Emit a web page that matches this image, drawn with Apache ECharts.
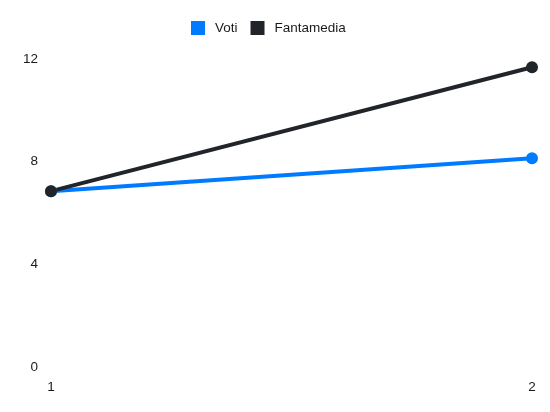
<!DOCTYPE html>
<html>
<head>
<meta charset="utf-8">
<script src="https://cdn.jsdelivr.net/npm/echarts@6/dist/echarts.min.js"></script>
<style>
html,body{margin:0;padding:0;background:#fff;}
#c{width:550px;height:412px;}
</style>
</head>
<body>
<div id="c"></div>
<script>
const categories = ['1', '2'];
const votiValues = [6.85, 8.13];
const fantamediaValues = [6.85, 11.68];
const yTicks = [0, 4, 8, 12];

const chart = echarts.init(document.getElementById('c'), null, {renderer: 'canvas'});
const font = 'Liberation Sans, Arial, Helvetica, sans-serif';
chart.setOption({
  animation: false,
  backgroundColor: '#ffffff',
  legend: {
    left: 191,
    top: 21,
    padding: 0,
    itemWidth: 14,
    itemHeight: 14,
    itemGap: 13,
    icon: 'rect',
    textStyle: {color: '#1a1a1a', fontSize: 13.5, fontFamily: font, padding: [0, 0, 0, 5]},
    data: ['Voti', 'Fantamedia']
  },
  grid: {left: 51, right: 18, top: 59, bottom: 45, containLabel: false},
  xAxis: {
    type: 'category',
    data: categories,
    boundaryGap: false,
    axisLine: {show: false},
    axisTick: {show: false},
    splitLine: {show: false},
    axisLabel: {color: '#1a1a1a', fontSize: 13.5, fontFamily: font, margin: 13}
  },
  yAxis: {
    type: 'value',
    min: yTicks[0],
    max: yTicks[yTicks.length - 1],
    interval: 4,
    axisLine: {show: false},
    axisTick: {show: false},
    splitLine: {show: false},
    axisLabel: {color: '#1a1a1a', fontSize: 13.5, fontFamily: font, margin: 13}
  },
  series: [
    {
      name: 'Voti',
      type: 'line',
      data: votiValues,
      color: '#007bff',
      symbol: 'circle',
      symbolSize: 12,
      lineStyle: {width: 4, color: '#007bff'},
      itemStyle: {color: '#007bff'}
    },
    {
      name: 'Fantamedia',
      type: 'line',
      data: fantamediaValues,
      color: '#212529',
      symbol: 'circle',
      symbolSize: 12,
      lineStyle: {width: 4, color: '#212529'},
      itemStyle: {color: '#212529'}
    }
  ]
});
</script>
</body>
</html>
